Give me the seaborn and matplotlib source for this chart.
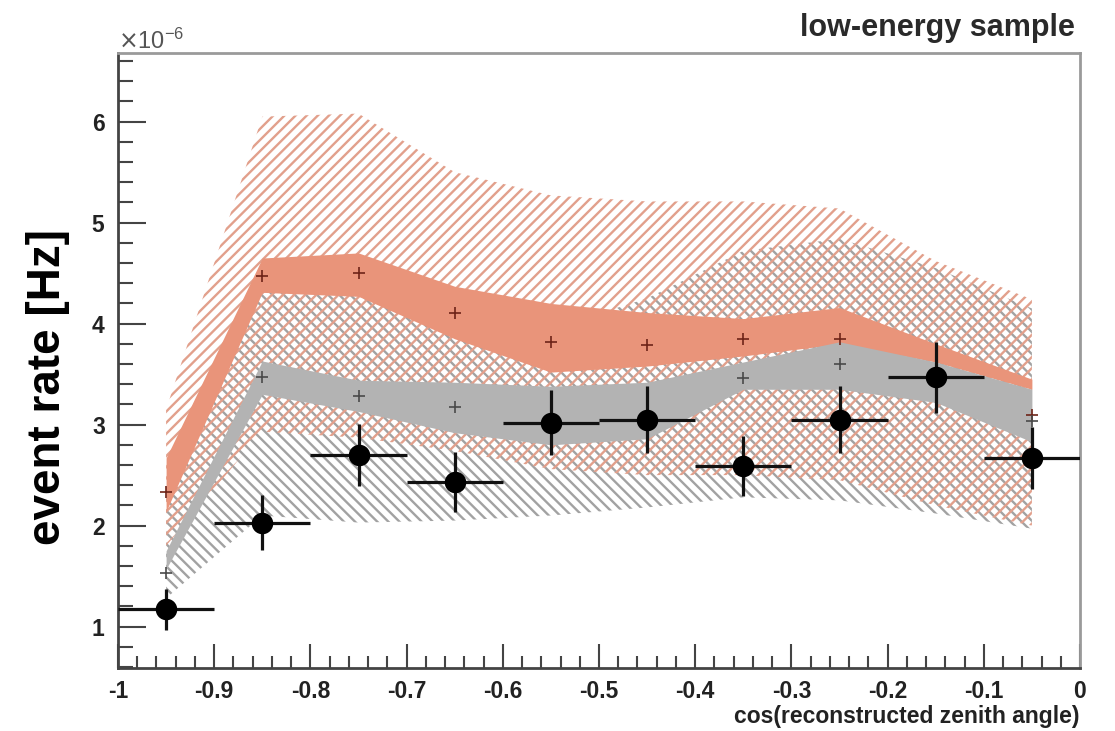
import matplotlib
matplotlib.use("Agg")
import numpy as np
import pandas as pd
import matplotlib.pyplot as plt
from matplotlib.ticker import MultipleLocator, FuncFormatter, ScalarFormatter
import seaborn as sns

# Bin centres in cos(reconstructed zenith angle), bin width 0.1
cos_zenith = [-0.95, -0.85, -0.75, -0.65, -0.55, -0.45, -0.35, -0.25, -0.15, -0.05]
bin_half_width = 0.05

# Measured event rate and its uncertainty (units of 1e-6 Hz)
data_rate = [1.17, 2.03, 2.70, 2.43, 3.02, 3.05, 2.59, 3.05, 3.47, 2.67]
data_err = [0.20, 0.27, 0.31, 0.30, 0.32, 0.33, 0.30, 0.33, 0.35, 0.31]

# Two simulated predictions (units of 1e-6 Hz)
pred_red = [2.33, 4.47, 4.50, 4.11, 3.82, 3.79, 3.85, 3.85, 3.50, 3.10]
pred_gray = [1.53, 3.47, 3.28, 3.17, 3.05, 3.10, 3.46, 3.60, 3.40, 3.04]

# Inner (solid) uncertainty bands
red_band_lo = [2.14, 4.31, 4.27, 3.85, 3.52, 3.58, 3.68, 3.80, 3.62, 3.35]
red_band_hi = [2.67, 4.65, 4.70, 4.37, 4.20, 4.11, 4.05, 4.16, 3.80, 3.45]
gray_band_lo = [1.57, 3.30, 3.13, 2.92, 2.80, 2.86, 3.35, 3.35, 3.22, 2.83]
gray_band_hi = [1.75, 3.63, 3.44, 3.42, 3.38, 3.42, 3.62, 3.82, 3.62, 3.35]

# Outer (hatched) systematic bands
red_syst_lo = [1.80, 2.93, 2.87, 2.74, 2.56, 2.50, 2.50, 2.45, 2.20, 2.00]
red_syst_hi = [3.15, 6.05, 6.08, 5.50, 5.27, 5.21, 5.21, 5.14, 4.62, 4.24]
gray_syst_lo = [1.28, 2.10, 2.03, 2.05, 2.10, 2.18, 2.28, 2.25, 2.12, 1.97]
gray_syst_hi = [2.40, 4.40, 4.30, 4.00, 3.95, 4.25, 4.72, 4.84, 4.55, 4.15]

RATE_UNIT = 1e-6

df = pd.DataFrame({
    "cosz": cos_zenith,
    "rate": np.array(data_rate) * RATE_UNIT,
    "err": np.array(data_err) * RATE_UNIT,
    "pred_red": np.array(pred_red) * RATE_UNIT,
    "pred_gray": np.array(pred_gray) * RATE_UNIT,
})

sns.set_theme(style="white")
plt.rcParams["font.family"] = ["Liberation Sans", "DejaVu Sans"]
plt.rcParams["axes.unicode_minus"] = False
plt.rcParams["hatch.linewidth"] = 1.7

SALMON = "#E9947A"
GRAY = "#B3B3B3"
RED_HATCH = "#E2A08C"
GRAY_HATCH = "#A2A2A2"

fig = plt.figure(figsize=(11.15, 7.31), dpi=100)
ax = fig.add_axes([118 / 1115, 1 - 668 / 731, 962 / 1115, 615 / 731])

x = np.array(cos_zenith)
u = RATE_UNIT

# hatched systematic bands
ax.fill_between(x, np.array(gray_syst_lo) * u, np.array(gray_syst_hi) * u,
                facecolor="none", edgecolor=GRAY_HATCH, hatch="\\\\\\", linewidth=0, zorder=1)
ax.fill_between(x, np.array(red_syst_lo) * u, np.array(red_syst_hi) * u,
                facecolor="none", edgecolor=RED_HATCH, hatch="///", linewidth=0, zorder=2)

# solid bands
ax.fill_between(x, np.array(red_band_lo) * u, np.array(red_band_hi) * u,
                color=SALMON, linewidth=0, zorder=3)
ax.fill_between(x, np.array(gray_band_lo) * u, np.array(gray_band_hi) * u,
                color=GRAY, linewidth=0, zorder=4)

# prediction markers
sns.scatterplot(data=df, x="cosz", y="pred_red", marker="+", s=70, color="#6e2418",
                linewidth=1.2, ax=ax, zorder=5, legend=False)
sns.scatterplot(data=df, x="cosz", y="pred_gray", marker="+", s=70, color="#4a4a4a",
                linewidth=1.2, ax=ax, zorder=5, legend=False)

# measured data with bin-width and statistical error bars
ax.errorbar(df["cosz"], df["rate"], xerr=bin_half_width, yerr=df["err"],
            fmt="none", ecolor="#111111", elinewidth=2.3, capsize=0, zorder=6)
sns.scatterplot(data=df, x="cosz", y="rate", s=240, color="black", edgecolor="black",
                linewidth=0, ax=ax, zorder=7, legend=False)

# axes ranges and ticks
ax.set_xlim(-1.0, 0.0)
ax.set_ylim(0.59 * u, 6.68 * u)
ax.xaxis.set_major_locator(MultipleLocator(0.1))
ax.xaxis.set_minor_locator(MultipleLocator(0.02))
ax.yaxis.set_major_locator(MultipleLocator(1 * u))
ax.yaxis.set_minor_locator(MultipleLocator(0.2 * u))


def fmt_x(v, pos):
    if abs(v) < 1e-9:
        return "0"
    return f"{round(v, 2):g}"


ax.xaxis.set_major_formatter(FuncFormatter(fmt_x))
yfmt = ScalarFormatter(useMathText=True)
yfmt.set_powerlimits((-3, 3))
ax.yaxis.set_major_formatter(yfmt)

ax.tick_params(axis="x", which="major", direction="in", length=17, width=1.5,
               color="#444444", pad=9, labelsize=16.5, labelcolor="#222222",
               top=False, bottom=True)
ax.tick_params(axis="x", which="minor", direction="in", length=9, width=1.5,
               color="#444444", top=False, bottom=True)
ax.tick_params(axis="y", which="major", direction="in", length=20, width=1.5,
               color="#444444", pad=9, labelsize=16.5, labelcolor="#222222",
               left=True, right=False)
ax.tick_params(axis="y", which="minor", direction="in", length=11, width=1.5,
               color="#444444", left=True, right=False)
for lab in ax.get_xticklabels() + ax.get_yticklabels():
    lab.set_fontweight("bold")

off = ax.yaxis.get_offset_text()
off.set_fontsize(17)
off.set_color("#555555")

for side in ("left", "bottom"):
    ax.spines[side].set_color("#444444")
    ax.spines[side].set_linewidth(2.0)
for side in ("top", "right"):
    ax.spines[side].set_color("#9a9a9a")
    ax.spines[side].set_linewidth(2.0)

ax.set_xlabel("cos(reconstructed zenith angle)", fontsize=16.5, fontweight="bold",
              color="#222222", ha="right")
ax.xaxis.set_label_coords(1.0, -0.06)
ax.xaxis.label.set_va("top")

ax.set_ylabel("event rate [Hz]", fontsize=33, fontweight="bold", color="black")
ax.yaxis.set_label_coords(-0.073, 0.457)
ax.yaxis.label.set_va("center")

fig.text(1075 / 1115, 1 - 28 / 731, "low-energy sample", fontsize=22, fontweight="bold",
         color="#2a2a2a", ha="right", va="center")

fig.savefig("out.png", dpi=100)
